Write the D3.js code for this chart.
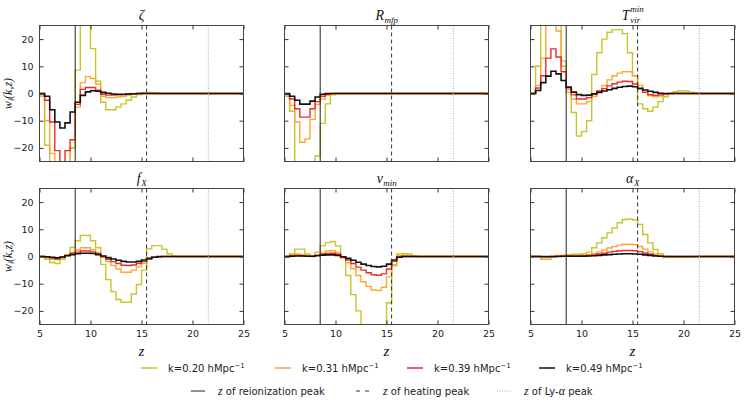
<!DOCTYPE html>
<html>
<head>
<meta charset="utf-8">
<script src="https://cdnjs.cloudflare.com/ajax/libs/d3/7.8.5/d3.min.js"></script>
<style>
body { margin: 0; background: #fff; }
svg { font-family: "DejaVu Sans", sans-serif; }
.math { font-family: "Liberation Serif", "DejaVu Serif", serif; font-style: italic; fill: #111; }
.tick text { font-family: "DejaVu Sans", sans-serif; font-size: 9.5px; fill: #222; }
.tick line { stroke: #333; }
</style>
</head>
<body>
<div id="chart"></div>
<script>
// left edge of every redshift bin, the bins are 0.5 wide
var zBins = d3.range(5, 25, 0.5);
var kLabels = ['0.20', '0.31', '0.39', '0.49'];
var kColors = ['#c6c62a', '#fba730', '#ee2a2a', '#111111'];
var zReion = 8.5, zHeat = 15.5, zLya = 21.55;
var xTicks = [5, 10, 15, 20, 25];
var yTicks = [-20, -10, 0, 10, 20];

// w_i(k,z), one array per parameter and k
var zeta_k020 = [-1, -19, -40, -40, -40, -40, -20, 8.6, 40, 40, 16.5, 4.5, -3.2, -6, -6, -5, -3.8, -2.5, -1.3, -0.4, 0.3, 0.4, 0.3, 0.1, 0, 0, 0, 0, 0, 0, 0, 0, 0, 0, 0, 0, 0, 0, 0, 0];
var zeta_k031 = [-0.5, -10, -22, -40, -40, -40, -20, -5, 4, 6.2, 5.5, 3.5, -1, -1.5, -1.5, -1.3, -1, -0.6, -0.3, -0.1, 0.1, 0.2, 0.1, 0, 0, 0, 0, 0, 0, 0, 0, 0, 0, 0, 0, 0, 0, 0, 0, 0];
var zeta_k039 = [0, -2.5, -10.5, -21, -40, -21, -17, -4, 1.5, 2.2, 2.2, 1.2, -0.3, -0.6, -0.6, -0.5, -0.4, -0.2, -0.1, 0, 0, 0, 0, 0, 0, 0, 0, 0, 0, 0, 0, 0, 0, 0, 0, 0, 0, 0, 0, 0];
var zeta_k049 = [0, -1, -6, -10.5, -12.7, -10.8, -6.8, -3.2, -0.7, 0.6, 1, 0.8, 0.4, 0.1, -0.2, -0.3, -0.3, -0.2, -0.1, 0, 0, 0, 0, 0, 0, 0, 0, 0, 0, 0, 0, 0, 0, 0, 0, 0, 0, 0, 0, 0];

var rmfp_k020 = [-1, -6.5, -40, -40, -40, -40, -23, -11, -3.8, -0.5, 0, 0, 0, 0, 0, 0, 0, 0, 0, 0, 0, 0, 0, 0, 0, 0, 0, 0, 0, 0, 0, 0, 0, 0, 0, 0, 0, 0, 0, 0];
var rmfp_k031 = [-0.5, -4.4, -10.5, -17.9, -16.7, -9.5, -4, -2, -0.7, -0.2, 0, 0, 0, 0, 0, 0, 0, 0, 0, 0, 0, 0, 0, 0, 0, 0, 0, 0, 0, 0, 0, 0, 0, 0, 0, 0, 0, 0, 0, 0];
var rmfp_k039 = [-0.3, -2, -5.6, -8.7, -8.7, -5.6, -3, -1, -0.3, 0, 0, 0, 0, 0, 0, 0, 0, 0, 0, 0, 0, 0, 0, 0, 0, 0, 0, 0, 0, 0, 0, 0, 0, 0, 0, 0, 0, 0, 0, 0];
var rmfp_k049 = [0, -1, -2.5, -3.9, -3.9, -2.8, -1.3, -0.3, 0, 0, 0, 0, 0, 0, 0, 0, 0, 0, 0, 0, 0, 0, 0, 0, 0, 0, 0, 0, 0, 0, 0, 0, 0, 0, 0, 0, 0, 0, 0, 0];

var tvir_k020 = [0, 10, 40, 40, 40, 40, 12, 0.5, -7, -15.6, -14, -10, 7, 15, 20, 22.5, 23.5, 23.5, 22, 15, 6.5, -3.8, -5.6, -6.5, -5, -3, -1.2, 0, 0.7, 1, 0.9, 0.5, 0.1, 0, 0, 0, 0, 0, 0, 0];
var tvir_k031 = [0, 3, 13, 30, 30, 23, 10, 1.5, -2, -3.8, -3.8, -3, -1, 1, 3, 5, 6.5, 7.5, 8, 8, 6.5, 3, 0.5, -0.8, -1.2, -0.9, -0.4, 0, 0.2, 0.2, 0.1, 0, 0, 0, 0, 0, 0, 0, 0, 0];
var tvir_k039 = [0, 2, 6.5, 13, 16.4, 13.4, 8, 2.5, -0.5, -2, -2, -1.5, -0.3, 0.8, 1.8, 2.8, 3.6, 4.2, 4.5, 4.4, 3.5, 1.8, 0.4, -0.4, -0.7, -0.5, -0.2, 0, 0, 0, 0, 0, 0, 0, 0, 0, 0, 0, 0, 0];
var tvir_k049 = [0, 1.1, 4, 6.4, 8.2, 7.2, 4.8, 2.2, 0.5, -0.4, -0.7, -0.6, -0.1, 0.4, 0.9, 1.4, 1.9, 2.3, 2.6, 2.7, 2.5, 1.9, 1.3, 0.8, 0.4, 0.1, 0, 0, 0, 0, 0, 0, 0, 0, 0, 0, 0, 0, 0, 0];

var fx_k020 = [0, -1, -2.2, -2.6, -1, 0.7, 3.3, 5.8, 7.7, 7.7, 5.8, 3.2, -2.9, -8.5, -12.9, -15.8, -16.8, -16.8, -13.8, -10.3, -5, 2.8, 4, 4, 2.7, 1, 0.2, 0, 0, 0, 0, 0, 0, 0, 0, 0, 0, 0, 0, 0];
var fx_k031 = [0, -0.4, -1, -1.2, -0.5, 0.4, 1.5, 2.4, 3.2, 3.2, 2.6, 1.4, -0.3, -1.8, -3.3, -4.6, -5.8, -5.8, -5, -3.8, -2.5, -1, -0.3, 0, 0, 0, 0, 0, 0, 0, 0, 0, 0, 0, 0, 0, 0, 0, 0, 0];
var fx_k039 = [0, -0.2, -0.6, -0.8, -0.3, 0.4, 1.1, 1.6, 2, 2, 1.7, 1, 0, -1, -1.9, -2.6, -3.2, -3.3, -3.1, -2.6, -1.8, -0.9, -0.3, 0, 0, 0, 0, 0, 0, 0, 0, 0, 0, 0, 0, 0, 0, 0, 0, 0];
var fx_k049 = [0, -0.1, -0.3, -0.5, -0.2, 0.3, 0.7, 1, 1.2, 1.2, 1.1, 0.7, 0.2, -0.4, -0.9, -1.4, -1.8, -2, -2, -1.8, -1.3, -0.7, -0.3, -0.1, 0, 0, 0, 0, 0, 0, 0, 0, 0, 0, 0, 0, 0, 0, 0, 0];

var numin_k020 = [0, 0.9, 2.7, 2.7, 0.9, 0, 1.5, 3.9, 5.1, 5.5, 3.9, -0.4, -7, -14, -20, -40, -40, -40, -40, -40, -17, -3.4, 0.9, 1, 0.9, 0.3, 0, 0, 0, 0, 0, 0, 0, 0, 0, 0, 0, 0, 0, 0];
var numin_k031 = [0, 0.7, 0.9, 0.7, 0.3, 0.2, 0.6, 1.2, 2, 2.2, 1.5, -0.5, -2.3, -4.5, -7, -9.3, -11, -12.3, -12.5, -11.3, -7.5, -3, 0.3, 0.4, 0.2, 0, 0, 0, 0, 0, 0, 0, 0, 0, 0, 0, 0, 0, 0, 0];
var numin_k039 = [0, 0.3, 0.4, 0.3, 0.1, 0.1, 0.4, 0.8, 1.1, 1.2, 0.8, -0.3, -1.3, -2.6, -3.9, -5, -6, -6.7, -6.9, -6.4, -4.6, -1.8, -0.2, 0, 0, 0, 0, 0, 0, 0, 0, 0, 0, 0, 0, 0, 0, 0, 0, 0];
var numin_k049 = [0, 0.1, 0.2, 0.2, 0.1, 0.1, 0.3, 0.5, 0.6, 0.6, 0.4, -0.1, -0.7, -1.4, -2.1, -2.8, -3.3, -3.7, -3.8, -3.6, -2.8, -1.3, -0.3, 0, 0, 0, 0, 0, 0, 0, 0, 0, 0, 0, 0, 0, 0, 0, 0, 0];

var alphax_k020 = [0, 0, -1, -1, -0.3, 0.4, 0.5, 0.7, 0.8, 0.8, 1, 1.6, 3.2, 5, 6.9, 8.7, 10.5, 12.4, 13.6, 13.8, 13.4, 11.8, 8.1, 5, 2.6, 1, 0, -0.2, -0.2, -0.2, -0.2, -0.2, -0.1, 0, 0, 0, 0, 0, 0, 0];
var alphax_k031 = [0, 0, -0.3, -0.3, -0.1, 0.2, 0.3, 0.4, 0.4, 0.4, 0.5, 0.7, 1.1, 1.7, 2.4, 3.1, 3.7, 4.2, 4.5, 4.5, 4.3, 3.7, 2.7, 1.7, 0.9, 0.3, -0.1, -0.2, -0.2, -0.2, -0.2, -0.1, 0, 0, 0, 0, 0, 0, 0, 0];
var alphax_k039 = [0, 0, -0.1, -0.1, 0, 0.1, 0.1, 0.2, 0.2, 0.2, 0.3, 0.4, 0.6, 0.9, 1.2, 1.6, 1.9, 2.1, 2.2, 2.2, 2.1, 1.8, 1.3, 0.8, 0.4, 0.1, 0, 0, 0, 0, 0, 0, 0, 0, 0, 0, 0, 0, 0, 0];
var alphax_k049 = [0, 0, 0, 0, 0, 0, 0.1, 0.1, 0.1, 0.1, 0.1, 0.2, 0.3, 0.4, 0.6, 0.7, 0.8, 0.9, 1, 1, 0.9, 0.8, 0.6, 0.4, 0.2, 0.1, 0, 0, 0, 0, 0, 0, 0, 0, 0, 0, 0, 0, 0, 0];

// title = [base, subscript, superscript]
var panels = [
    { title: ['ζ', '', ''],       series: [zeta_k020, zeta_k031, zeta_k039, zeta_k049] },
    { title: ['R', 'mfp', ''],    series: [rmfp_k020, rmfp_k031, rmfp_k039, rmfp_k049] },
    { title: ['T', 'vir', 'min'], series: [tvir_k020, tvir_k031, tvir_k039, tvir_k049] },
    { title: ['f', 'X', ''],      series: [fx_k020, fx_k031, fx_k039, fx_k049] },
    { title: ['ν', 'min', ''],    series: [numin_k020, numin_k031, numin_k039, numin_k049] },
    { title: ['α', 'X', ''],      series: [alphax_k020, alphax_k031, alphax_k039, alphax_k049] }
];

var colLeft = [39.5, 284.5, 530.5];
var rowTop = [25.5, 188.5];
var plotW = 204, plotH = 136;

var svg = d3.select('#chart').append('svg')
    .attr('width', 745)
    .attr('height', 407);

var xScale = d3.scaleLinear().domain([5, 25]).range([0, plotW]);
var yScale = d3.scaleLinear().domain([-25, 25]).range([plotH, 0]);

var line = d3.line()
    .curve(d3.curveStepAfter)
    .x(function (d) { return xScale(d[0]); })
    .y(function (d) { return yScale(d[1]); });

var noLabel = function () { return ''; };

// base letter with optional sub/superscript, centred on cx
function mathTitle(g, cx, y, parts) {
    var t = g.append('text').attr('class', 'math').attr('y', y).attr('font-size', 14).text(parts[0]);
    var bw = t.node().getComputedTextLength();
    var sub = null, sup = null, sw = 0;
    if (parts[1]) {
        sub = g.append('text').attr('class', 'math').attr('y', y + 3.5).attr('font-size', 9).text(parts[1]);
        sw = Math.max(sw, sub.node().getComputedTextLength());
    }
    if (parts[2]) {
        sup = g.append('text').attr('class', 'math').attr('y', y - 7.5).attr('font-size', 9).text(parts[2]);
        sw = Math.max(sw, sup.node().getComputedTextLength());
    }
    var x0 = cx - (bw + sw) / 2;
    t.attr('x', x0);
    if (sub) sub.attr('x', x0 + bw + 0.5);
    if (sup) sup.attr('x', x0 + bw + 0.5);
}

panels.forEach(function (p, i) {
    var col = i % 3, row = Math.floor(i / 3);
    var g = svg.append('g')
        .attr('transform', 'translate(' + colLeft[col] + ',' + rowTop[row] + ')');

    g.append('clipPath').attr('id', 'clip' + i)
        .append('rect').attr('width', plotW).attr('height', plotH);

    var plot = g.append('g').attr('clip-path', 'url(#clip' + i + ')');

    p.series.forEach(function (vals, k) {
        var pts = zBins.map(function (z, j) { return [z, vals[j]]; });
        pts.push([xScale.domain()[1], vals[vals.length - 1]]);
        plot.append('path')
            .attr('d', line(pts))
            .attr('fill', 'none')
            .attr('stroke', kColors[k])
            .attr('stroke-width', k == 3 ? 1.6 : 1.4);
    });

    // peak markers
    plot.append('line').attr('x1', xScale(zReion)).attr('x2', xScale(zReion))
        .attr('y1', 0).attr('y2', plotH).attr('stroke', '#222').attr('stroke-width', 1);
    plot.append('line').attr('x1', xScale(zHeat)).attr('x2', xScale(zHeat))
        .attr('y1', 0).attr('y2', plotH).attr('stroke', '#333').attr('stroke-width', 1)
        .attr('stroke-dasharray', '4,3');
    plot.append('line').attr('x1', xScale(zLya)).attr('x2', xScale(zLya))
        .attr('y1', 0).attr('y2', plotH).attr('stroke', '#aaa').attr('stroke-width', 1)
        .attr('stroke-dasharray', '1,1.5');

    // ticks on all four sides, pointing in
    var xAxisB = d3.axisBottom(xScale).tickValues(xTicks).tickSizeInner(-4).tickSizeOuter(0).tickPadding(6);
    if (row == 0) xAxisB.tickFormat(noLabel);
    var yAxisL = d3.axisLeft(yScale).tickValues(yTicks).tickSizeInner(-4).tickSizeOuter(0).tickPadding(6);
    if (col != 0) yAxisL.tickFormat(noLabel);

    g.append('g').attr('transform', 'translate(0,' + plotH + ')').call(xAxisB);
    g.append('g').call(d3.axisTop(xScale).tickValues(xTicks).tickSizeInner(-4).tickSizeOuter(0).tickFormat(noLabel));
    g.append('g').call(yAxisL);
    g.append('g').attr('transform', 'translate(' + plotW + ',0)')
        .call(d3.axisRight(yScale).tickValues(yTicks).tickSizeInner(-4).tickSizeOuter(0).tickFormat(noLabel));
    g.selectAll('.domain').remove();

    g.append('rect')
        .attr('width', plotW).attr('height', plotH)
        .attr('fill', 'none').attr('stroke', '#444').attr('stroke-width', 1);

    mathTitle(g, plotW / 2, -6, p.title);

    if (col == 0) {
        var yl = g.append('text').attr('class', 'math')
            .attr('transform', 'translate(-28,' + (plotH / 2) + ') rotate(-90)')
            .attr('text-anchor', 'middle')
            .attr('font-size', 12);
        yl.append('tspan').text('w');
        yl.append('tspan').attr('font-size', 8).attr('dy', 2).text('i');
        yl.append('tspan').attr('dy', -2).text('(k,z)');
    }
    if (row == 1) {
        g.append('text').attr('class', 'math')
            .attr('x', plotW / 2).attr('y', plotH + 31)
            .attr('text-anchor', 'middle')
            .attr('font-size', 15)
            .text('z');
    }
});

// legend, first row: the k series
var legK = svg.append('g').attr('transform', 'translate(0,368)');
var kLegX = [141, 275, 407, 539];
kLabels.forEach(function (lab, k) {
    legK.append('line').attr('x1', kLegX[k]).attr('x2', kLegX[k] + 16)
        .attr('stroke', kColors[k]).attr('stroke-width', 1.5);
    var t = legK.append('text').attr('x', kLegX[k] + 27).attr('y', 3.5)
        .attr('font-size', 10).attr('fill', '#222');
    t.append('tspan').text('k=' + lab + ' hMpc');
    t.append('tspan').attr('dy', -4).attr('font-size', 7).text('−1');
});

// legend, second row: the peak markers
var legZ = svg.append('g').attr('transform', 'translate(0,391)');
var zLegX = [191, 356, 497];
var zLegDash = [null, '4,5', '1,1.5'];
var zLegCol = ['#222', '#333', '#aaa'];
var zLegText = [['reionization peak'], ['heating peak'], ['Ly-', 'α', ' peak']];
zLegText.forEach(function (parts, j) {
    legZ.append('line').attr('x1', zLegX[j]).attr('x2', zLegX[j] + 14)
        .attr('stroke', zLegCol[j]).attr('stroke-width', 1)
        .attr('stroke-dasharray', zLegDash[j]);
    var t = legZ.append('text').attr('x', zLegX[j] + 27).attr('y', 3.5)
        .attr('font-size', 10).attr('fill', '#222');
    t.append('tspan').attr('class', 'math').attr('font-size', 12).text('z');
    t.append('tspan').text(' of ' + parts[0]);
    if (parts.length > 1) {
        t.append('tspan').attr('class', 'math').attr('font-size', 12).text(parts[1]);
        t.append('tspan').text(parts[2]);
    }
});
</script>
</body>
</html>
